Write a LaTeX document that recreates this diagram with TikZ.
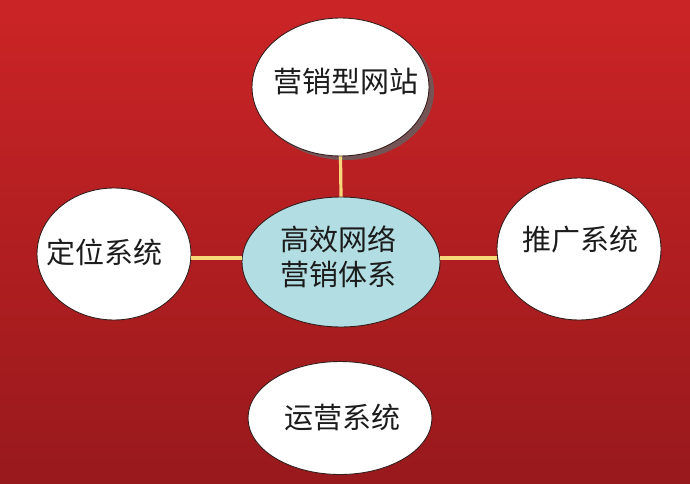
\documentclass[tikz,border=0pt]{standalone}
\usepackage{fontspec}
\newfontfamily\cjk{Noto Sans CJK SC}
\usetikzlibrary{shapes.geometric,shadows}
\definecolor{bgtop}{RGB}{203,36,38}
\definecolor{bgbot}{RGB}{152,25,28}
\definecolor{hubfill}{RGB}{178,221,226}
\definecolor{conn}{RGB}{246,216,122}
\definecolor{edge}{RGB}{55,30,30}
\definecolor{txt}{RGB}{28,28,28}
\definecolor{shadowc}{RGB}{110,90,92}
\tikzset{
  bubble/.style={ellipse, draw=edge, line width=0.9pt, fill=white, inner sep=0pt},
  hub/.style={bubble, fill=hubfill},
  label text/.style={font=\cjk\fontsize{29}{35}\selectfont, text=txt, inner sep=0pt, align=center},
  link/.style={draw=conn, line width=3.2pt},
}
\begin{document}
\begin{tikzpicture}[x=1pt,y=-1pt]
\useasboundingbox (0,0) rectangle (690,484);
\shade[top color=bgtop, bottom color=bgbot] (0,0) rectangle (690,484);
% ellipses
\node[bubble, minimum width=177pt, minimum height=138pt,
      drop shadow={shadow xshift=5pt, shadow yshift=-4pt, fill=shadowc, opacity=0.9}] (T) at (340.5,87) {};
\node[hub, minimum width=198pt, minimum height=130pt] (C) at (341,262) {};
\node[bubble, minimum width=154pt, minimum height=132pt] (L) at (114,254) {};
\node[bubble, minimum width=164pt, minimum height=142pt] (R) at (579,249) {};
\node[bubble, minimum width=184pt, minimum height=113pt] (B) at (340,418) {};
\coordinate (hl) at (341,258);
% connectors
\draw[link] (T.south) -- (C.north);
\draw[link] (L.east |- hl) -- (C.west |- hl);
\draw[link] (C.east |- hl) -- (R.west |- hl);
% texts
\node[label text] (tT) at (345.5,82) {营销型网站};
\node[label text] (tC) at (338,257) {高效网络\\营销体系};
\node[label text] (tL) at (104.5,252) {定位系统};
\node[label text] (tR) at (580,240) {推广系统};
\node[label text] (tB) at (342.5,417) {运营系统};
\end{tikzpicture}
\end{document}
